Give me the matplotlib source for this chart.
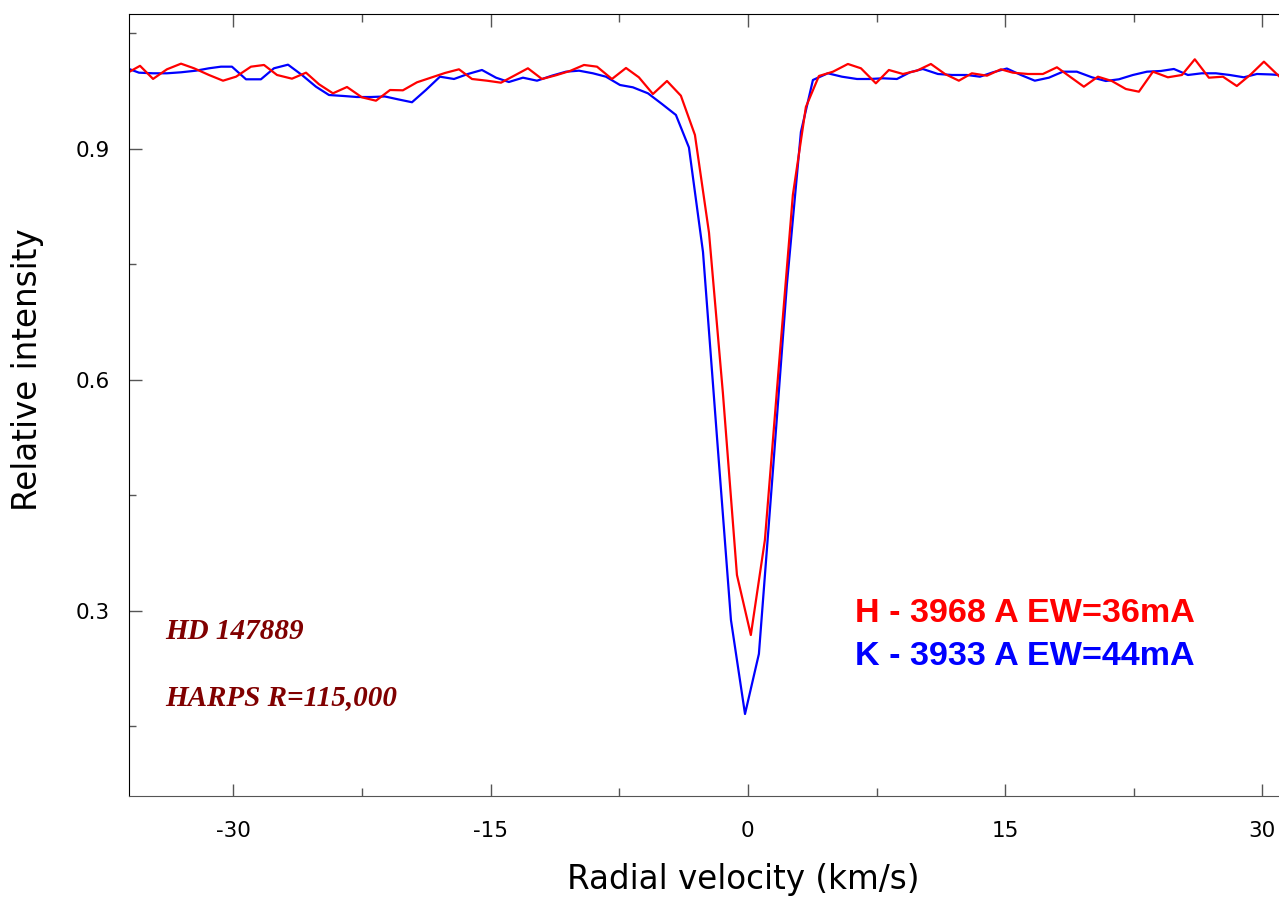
import matplotlib
matplotlib.use("Agg")
import matplotlib.pyplot as plt
from matplotlib.ticker import MultipleLocator

plt.rcParams["axes.unicode_minus"] = False

# Ca II H line (3968 A), velocity in km/s and normalised flux
h_vel = [-36.09, -35.45, -34.69, -33.88, -33.06, -32.30, -31.43, -30.61, -29.85, -28.98,
         -28.22, -27.46, -26.59, -25.77, -25.01, -24.20, -23.38, -22.51, -21.69, -20.87,
         -20.12, -19.30, -18.60, -17.67, -16.85, -16.09, -15.22, -14.40, -13.59, -12.83,
         -12.01, -11.20, -10.38, -9.56, -8.80, -7.93, -7.11, -6.36, -5.54, -4.72,
         -3.91, -3.09, -2.27, -1.46, -0.64, 0.17, 0.99, 1.81, 2.62, 3.38,
         4.14, 4.96, 5.83, 6.59, 7.46, 8.22, 9.04, 9.85, 10.67, 11.49,
         12.30, 13.06, 13.94, 14.75, 15.45, 16.33, 17.20, 18.02, 18.78, 19.59,
         20.41, 21.22, 22.04, 22.80, 23.62, 24.49, 25.31, 26.06, 26.88, 27.70,
         28.51, 29.33, 30.09, 30.96]
h_flux = [1.000, 1.008, 0.991, 1.0035, 1.0108, 1.0048, 0.9961, 0.9887, 0.9939, 1.0069,
          1.0091, 0.9961, 0.9913, 0.9991, 0.9840, 0.9723, 0.9805, 0.9671, 0.9627, 0.9766,
          0.9762, 0.9866, 0.9918, 0.9987, 1.0035, 0.9909, 0.9887, 0.9861, 0.9957, 1.0048,
          0.9909, 0.9957, 1.0013, 1.0091, 1.0069, 0.9909, 1.0052, 0.9931, 0.9714, 0.9883,
          0.9692, 0.9182, 0.7913, 0.5831, 0.3467, 0.2688, 0.3922, 0.6195, 0.8402, 0.9545,
          0.9948, 1.0004, 1.0104, 1.0048, 0.9853, 1.0026, 0.9974, 1.0017, 1.0104, 0.9974,
          0.9887, 0.9983, 0.9952, 1.0035, 0.9991, 0.9974, 0.9974, 1.0061, 0.9939, 0.9809,
          0.9939, 0.9883, 0.9779, 0.9744, 1.0004, 0.9931, 0.9961, 1.0165, 0.9926, 0.9939,
          0.9818, 0.9970, 1.0134, 0.9948]

# Ca II K line (3933 A)
k_vel = [-36.09, -35.51, -34.69, -33.88, -33.06, -32.19, -31.43, -30.73, -30.09, -29.27,
         -28.40, -27.64, -26.82, -26.01, -25.19, -24.43, -23.56, -22.80, -21.98, -21.17,
         -20.41, -19.59, -18.78, -17.96, -17.14, -16.33, -15.51, -14.69, -13.94, -13.12,
         -12.30, -11.43, -10.61, -9.85, -9.04, -8.28, -7.46, -6.71, -5.83, -5.01,
         -4.20, -3.44, -2.62, -1.81, -0.99, -0.17, 0.64, 1.46, 2.27, 3.09,
         3.79, 4.66, 5.48, 6.36, 7.11, 7.87, 8.69, 9.45, 10.20, 11.08,
         11.90, 12.77, 13.53, 14.29, 15.10, 15.92, 16.73, 17.55, 18.37, 19.18,
         20.06, 20.87, 21.63, 22.45, 23.27, 24.08, 24.84, 25.66, 26.47, 27.29,
         28.10, 28.92, 29.68, 30.50, 30.96]
k_flux = [1.0039, 0.9991, 0.9983, 0.9983, 0.9996, 1.0017, 1.0048, 1.0069, 1.0069, 0.9905,
          0.9905, 1.0048, 1.0095, 0.9961, 0.9809, 0.9701, 0.9688, 0.9675, 0.9675, 0.9682,
          0.9645, 0.9607, 0.9766, 0.9939, 0.9909, 0.9974, 1.0026, 0.9926, 0.9870, 0.9926,
          0.9887, 0.9952, 1.0004, 1.0017, 0.9983, 0.9939, 0.9831, 0.9801, 0.9723, 0.9584,
          0.9442, 0.9020, 0.7662, 0.5273, 0.2883, 0.1662, 0.2442, 0.4831, 0.7234, 0.9221,
          0.9896, 0.9983, 0.9939, 0.9909, 0.9909, 0.9918, 0.9909, 0.9996, 1.0039, 0.9974,
          0.9961, 0.9961, 0.9939, 0.9996, 1.0045, 0.9961, 0.9887, 0.9926, 1.0004, 1.0004,
          0.9931, 0.9883, 0.9905, 0.9961, 1.0004, 1.0013, 1.0039, 0.9961, 0.9983, 0.9983,
          0.9961, 0.9931, 0.9974, 0.9968, 0.9961]

star_name = "HD 147889"
instrument = "HARPS R=115,000"
h_label = "H - 3968 A EW=36mA"
k_label = "K - 3933 A EW=44mA"

fig = plt.figure(figsize=(12.79, 8.98), dpi=100)
ax = fig.add_axes([0.1009, 0.1136, 0.8991, 0.8708])

ax.plot(k_vel, k_flux, color="#0000ff", lw=1.6)
ax.plot(h_vel, h_flux, color="#ff0000", lw=1.6)

ax.set_xlim(-36.09, 30.97)
ax.set_ylim(0.0597, 1.0753)

ax.xaxis.set_major_locator(MultipleLocator(15))
ax.xaxis.set_minor_locator(MultipleLocator(7.5))
ax.yaxis.set_minor_locator(MultipleLocator(0.15))
ax.set_yticks([0.3, 0.6, 0.9])
ax.set_yticklabels(["0.3", "0.6", "0.9"])

ax.tick_params(axis="x", which="both", direction="in", top=True, bottom=True,
               color="#555555", labelsize=15.5, pad=18)
ax.tick_params(axis="x", which="major", length=9, width=1)
ax.tick_params(axis="x", which="minor", length=6, width=1)
ax.tick_params(axis="y", which="both", direction="in", left=True, right=False,
               color="#555555", labelsize=15.5, pad=14)
ax.tick_params(axis="y", which="major", length=9, width=1)
ax.tick_params(axis="y", which="minor", length=5, width=1)

ax.spines["right"].set_visible(False)
ax.spines["bottom"].set_color("#555555")
ax.spines["top"].set_color("black")
ax.spines["left"].set_color("black")

ax.set_xlabel("Radial velocity (km/s)", fontsize=23.5)
ax.xaxis.set_label_coords(0.534, -0.086)
ax.set_ylabel("Relative intensity", fontsize=23.5)
ax.yaxis.set_label_coords(-0.074, 0.545)

ax.text(-34.0, 0.273, star_name, color="#800000", fontsize=21, family="Liberation Serif",
        style="italic", weight="bold", ha="left", va="center")
ax.text(-34.0, 0.188, instrument, color="#800000", fontsize=21, family="Liberation Serif",
        style="italic", weight="bold", ha="left", va="center")

ax.text(6.24, 0.297, h_label, color="#ff0000", fontsize=24.6, family="Liberation Sans",
        weight="bold", ha="left", va="center")
ax.text(6.24, 0.2403, k_label, color="#0000ff", fontsize=24.6, family="Liberation Sans",
        weight="bold", ha="left", va="center")

fig.savefig("out.png", dpi=100)
